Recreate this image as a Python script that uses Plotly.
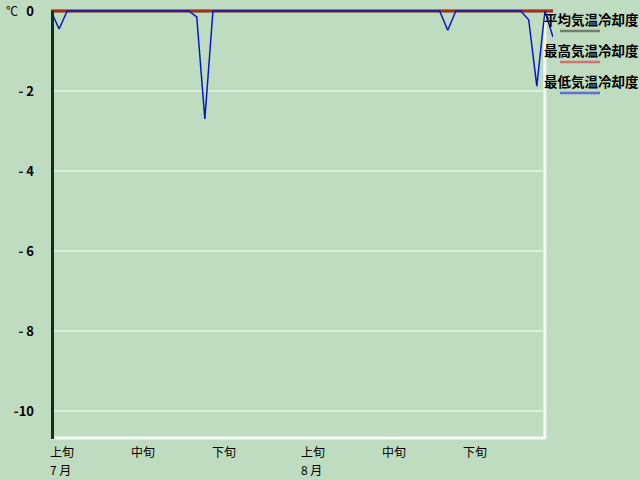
import plotly.graph_objects as go
import pandas as pd

# daily values, 7/1 .. 9/1
dates = pd.date_range('2023-07-01', '2023-09-01', freq='D')

avg_cool = [0, 0, 0, 0, 0, 0, 0, 0, 0, 0,
            0, 0, 0, 0, 0, 0, 0, 0, 0, 0,
            0, 0, 0, 0, 0, 0, 0, 0, 0, 0,
            0, 0, 0, 0, 0, 0, 0, 0, 0, 0,
            0, 0, 0, 0, 0, 0, 0, 0, 0, 0,
            0, 0, 0, 0, 0, 0, 0, 0, 0, 0,
            0, 0, 0]
max_cool = [0, 0, 0, 0, 0, 0, 0, 0, 0, 0,
            0, 0, 0, 0, 0, 0, 0, 0, 0, 0,
            0, 0, 0, 0, 0, 0, 0, 0, 0, 0,
            0, 0, 0, 0, 0, 0, 0, 0, 0, 0,
            0, 0, 0, 0, 0, 0, 0, 0, 0, 0,
            0, 0, 0, 0, 0, 0, 0, 0, 0, 0,
            0, 0, 0]
min_cool = [0, -0.45, 0, 0, 0, 0, 0, 0, 0, 0,
            0, 0, 0, 0, 0, 0, 0, 0, -0.15, -2.7,
            0, 0, 0, 0, 0, 0, 0, 0, 0, 0,
            0, 0, 0, 0, 0, 0, 0, 0, 0, 0,
            0, 0, 0, 0, 0, 0, 0, 0, 0, -0.48,
            0, 0, 0, 0, 0, 0, 0, 0, 0, -0.22,
            -1.88, 0, -0.65]

series_names = ['平均気温冷却度', '最高気温冷却度', '最低気温冷却度']
y_ticks = [0, -2, -4, -6, -8, -10]
y_ticktext = ['0', '- 2', '- 4', '- 6', '- 8', '-10']
x_label_dates = ['2023-07-01', '2023-07-11', '2023-07-21',
                 '2023-08-01', '2023-08-11', '2023-08-21']
x_label_text = ['上旬', '中旬', '下旬', '上旬', '中旬', '下旬']
month_dates = ['2023-07-01', '2023-08-01']
month_text = ['7 月', '8 月']

BG = '#c0dcc0'
FONT = 'Noto Sans CJK JP'
W, H = 640, 480
L, R, T, B = 51, 87, 9, 42
PW, PH = W - L - R, H - T - B


def xp(px):
    return (px - L) / PW


def yp(py):
    return 1 - (py - T) / PH


fig = go.Figure()
fig.add_trace(go.Scatter(x=dates, y=avg_cool, mode='lines', name=series_names[0],
                         line=dict(color='#506050', width=3)))
fig.add_trace(go.Scatter(x=dates, y=max_cool, mode='lines', name=series_names[1],
                         line=dict(color='#b02818', width=2.5)))
fig.add_trace(go.Scatter(x=dates, y=min_cool, mode='lines', name=series_names[2],
                         line=dict(color='#0818c0', width=1.5)))

shapes = []
# grid lines
for v in y_ticks[1:]:
    shapes.append(dict(type='line', xref='x', yref='y', x0=dates[0], x1=dates[61],
                       y0=v, y1=v, line=dict(color='#e4f2e4', width=1.5), layer='below'))
# frame: bottom / right white, left dark
shapes.append(dict(type='line', xref='paper', yref='paper', x0=xp(51), x1=xp(546),
                   y0=yp(438), y1=yp(438), line=dict(color='#f4fbf4', width=3)))
shapes.append(dict(type='line', xref='x', yref='paper', x0=dates[61], x1=dates[61],
                   y0=yp(11), y1=yp(439), line=dict(color='#f4fbf4', width=3), layer='below'))
shapes.append(dict(type='line', xref='paper', yref='paper', x0=xp(52.5), x1=xp(52.5),
                   y0=yp(11), y1=yp(439), line=dict(color='#1a2c1a', width=3)))

annotations = []
legend_colors = ['#708070', '#d87070', '#6070d0']
for i, name in enumerate(series_names):
    ty = 19 + i * 31
    annotations.append(dict(text='<b>' + name + '</b>', xref='paper', yref='paper',
                            x=xp(542), y=yp(ty), xanchor='left', yanchor='middle',
                            showarrow=False, font=dict(family=FONT, size=13.5, color='#000000')))
    shapes.append(dict(type='line', xref='paper', yref='paper', x0=xp(560), x1=xp(600),
                       y0=yp(ty + 12), y1=yp(ty + 12),
                       line=dict(color=legend_colors[i], width=2.5)))

for d, t in zip(x_label_dates, x_label_text):
    annotations.append(dict(text=t, xref='x', yref='paper', x=d, y=yp(451),
                            xanchor='left', yanchor='middle', xshift=-3, showarrow=False,
                            font=dict(family=FONT, size=12, color='#000000')))
for d, t in zip(month_dates, month_text):
    annotations.append(dict(text=t, xref='x', yref='paper', x=d, y=yp(470),
                            xanchor='left', yanchor='middle', xshift=-3, showarrow=False,
                            font=dict(family=FONT, size=12, color='#000000')))
annotations.append(dict(text='℃', xref='paper', yref='paper', x=xp(4), y=yp(11),
                        xanchor='left', yanchor='middle', showarrow=False,
                        font=dict(family=FONT, size=12, color='#000000')))

fig.update_layout(
    width=W, height=H,
    paper_bgcolor=BG, plot_bgcolor=BG,
    margin=dict(l=L, r=R, t=T, b=B, autoexpand=False),
    showlegend=False,
    hovermode=False,
    xaxis=dict(range=[dates[0], dates[62]], showgrid=False, zeroline=False,
               showticklabels=False, showline=False, ticks='', automargin=False),
    yaxis=dict(range=[-10.675, 0.05], tickvals=y_ticks,
               ticktext=['<b>' + t + '</b>' for t in y_ticktext],
               showgrid=False, zeroline=False, showline=False, ticks='',
               ticklabelstandoff=16, automargin=False,
               tickfont=dict(family=FONT, size=13, color='#000000')),
    shapes=shapes,
    annotations=annotations,
)

fig.write_html('out.html', config={'displayModeBar': False},
               post_script="document.body.style.margin='0';document.body.style.background='#c0dcc0';")
